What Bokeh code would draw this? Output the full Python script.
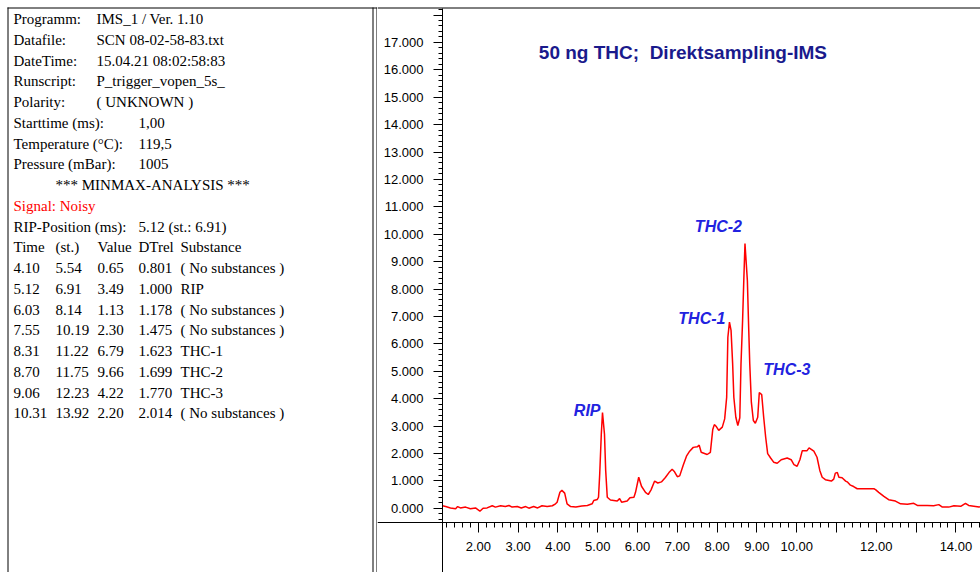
from bokeh.plotting import figure
from bokeh.models import (Range1d, LinearAxis, FixedTicker, NumeralTickFormatter,
                          Span, ColumnDataSource)
from bokeh.layouts import row
from bokeh.embed import file_html
from bokeh.resources import INLINE
from bokeh.core.properties import value

# ---------------------------------------------------------------- data
info_labels = ["Programm:", "Datafile:", "DateTime:", "Runscript:", "Polarity:",
               "Starttime (ms):", "Temperature (°C):", "Pressure (mBar):"]
info_values = ["IMS_1 / Ver. 1.10", "SCN 08-02-58-83.txt", "15.04.21 08:02:58:83",
               "P_trigger_vopen_5s_", "( UNKNOWN )", "1,00", "119,5", "1005"]
analysis_title = "*** MINMAX-ANALYSIS ***"
signal_state = "Signal: Noisy"
rip_label = "RIP-Position (ms):"
rip_position = "5.12 (st.: 6.91)"
table_header = ["Time", "(st.)", "Value", "DTrel", "Substance"]

peak_time = [4.10, 5.12, 6.03, 7.55, 8.31, 8.70, 9.06, 10.31]
peak_st = [5.54, 6.91, 8.14, 10.19, 11.22, 11.75, 12.23, 13.92]
peak_value = [0.65, 3.49, 1.13, 2.30, 6.79, 9.66, 4.22, 2.20]
peak_dtrel = [0.801, 1.000, 1.178, 1.475, 1.623, 1.699, 1.770, 2.014]
substance = ["( No substances )", "RIP", "( No substances )", "( No substances )",
             "THC-1", "THC-2", "THC-3", "( No substances )"]

# non-breaking space keeps the double gap in the SVG text
chart_title = "50 ng THC;\u00a0 Direktsampling-IMS"

# drift time (ms) and signal of the spectrum
drift_time = [
    1.10, 1.18, 1.30, 1.43, 1.48, 1.55, 1.68, 1.80, 1.93, 2.04, 2.12, 2.22, 2.35,
    2.43, 2.56, 2.68, 2.77, 2.85, 2.98, 3.08, 3.19, 3.27, 3.39, 3.49, 3.60, 3.73,
    3.86, 3.94, 3.98, 4.05, 4.10, 4.17, 4.23, 4.32, 4.45, 4.60, 4.74, 4.86, 4.90,
    4.99, 5.02, 5.05, 5.09, 5.12, 5.17, 5.20, 5.24, 5.32, 5.49, 5.55, 5.60, 5.74,
    5.81, 5.91, 5.95, 6.03, 6.10, 6.20, 6.27, 6.34, 6.43, 6.51, 6.60, 6.70, 6.79,
    6.87, 6.93, 7.00, 7.06, 7.15, 7.23, 7.31, 7.40, 7.50, 7.55, 7.60, 7.75, 7.83,
    7.89, 7.93, 7.98, 8.04, 8.13, 8.19, 8.24, 8.27, 8.31, 8.35, 8.39, 8.42, 8.47,
    8.52, 8.57, 8.60, 8.64, 8.67, 8.70, 8.76, 8.79, 8.82, 8.86, 8.91, 8.96, 9.02,
    9.06, 9.12, 9.17, 9.22, 9.27, 9.34, 9.42, 9.51, 9.61, 9.76, 9.86, 9.93, 10.01,
    10.08, 10.14, 10.26, 10.31, 10.43, 10.51, 10.58, 10.64, 10.72, 10.87, 10.93,
    10.97, 11.02, 11.06, 11.14, 11.23, 11.28, 11.35, 11.43, 11.52, 11.77, 11.94,
    11.98, 12.06, 12.19, 12.31, 12.48, 12.61, 12.78, 12.94, 13.03, 13.28, 13.44,
    13.57, 13.66, 13.82, 13.95, 14.12, 14.24, 14.32, 14.45, 14.58, 14.65,
]
intensity = [
    0.09, 0.06, 0.01, -0.02, 0.06, 0.01, 0.04, -0.02, 0.01, -0.11, 0.00, 0.01, 0.09,
    0.04, 0.09, 0.06, 0.10, 0.04, 0.06, 0.01, 0.06, 0.00, 0.06, 0.01, 0.09, 0.06,
    0.09, 0.16, 0.22, 0.58, 0.65, 0.55, 0.16, 0.06, 0.04, 0.08, 0.10, 0.16, 0.28,
    0.32, 0.40, 1.25, 2.70, 3.49, 2.70, 1.38, 0.40, 0.30, 0.26, 0.35, 0.22, 0.26,
    0.38, 0.40, 0.58, 1.13, 0.80, 0.58, 0.50, 0.67, 0.99, 0.92, 0.96, 1.12, 1.30,
    1.42, 1.33, 1.15, 1.18, 1.58, 1.90, 2.08, 2.22, 2.24, 2.30, 2.04, 1.96, 2.04,
    2.87, 3.05, 2.98, 2.84, 2.96, 3.26, 4.05, 6.24, 6.79, 6.49, 5.27, 4.05, 3.32,
    3.02, 3.30, 5.27, 6.85, 8.31, 9.66, 8.31, 6.73, 5.27, 3.87, 3.20, 3.10, 3.32,
    4.22, 4.15, 3.32, 2.59, 1.99, 1.84, 1.68, 1.64, 1.77, 1.83, 1.77, 1.59, 1.53,
    1.77, 2.10, 2.10, 2.20, 2.08, 1.86, 1.38, 1.13, 1.04, 0.99, 1.06,
    1.28, 1.30, 1.13, 1.11, 0.99, 0.95, 0.84, 0.79, 0.71, 0.71, 0.71,
    0.68, 0.58, 0.43, 0.31, 0.26, 0.16, 0.14, 0.18, 0.10, 0.10, 0.09,
    0.13, 0.04, 0.04, 0.09, 0.07, 0.18, 0.10, 0.07, 0.04, 0.07,
]

# ---------------------------------------------------------------- layout
W, H = 980, 572
LEFT_W = 377                 # width of the report panel
SERIF = value("Liberation Serif")
SANS = value("Liberation Sans")

# ---------------------------------------------------------------- report panel
info = figure(width=LEFT_W, height=H, x_range=Range1d(0, LEFT_W), y_range=Range1d(H, 0),
              x_axis_type=None, y_axis_type=None, min_border=0,
              outline_line_color=None, output_backend="svg", toolbar_location=None)
info.grid.visible = False

LINE0, LINE_H = 18.5, 20.75
COLS = [13, 55, 97, 138, 180]
xs, ys, texts, colors = [], [], [], []


def put(line, x, s, color="black"):
    xs.append(x)
    ys.append(LINE0 + line * LINE_H)
    texts.append(s)
    colors.append(color)


for i, (lab, val) in enumerate(zip(info_labels, info_values)):
    put(i, COLS[0], lab)
    put(i, COLS[2] - 1 if i < 5 else COLS[3], val)
line = len(info_labels)
put(line, COLS[1], analysis_title)
put(line + 1, COLS[0], signal_state, "#ff0000")
put(line + 2, COLS[0], rip_label)
put(line + 2, COLS[3], rip_position)
for c, h in zip(COLS, table_header):
    put(line + 3, c, h)
for k in range(len(peak_time)):
    cells = [f"{peak_time[k]:.2f}", f"{peak_st[k]:.2f}", f"{peak_value[k]:.2f}",
             f"{peak_dtrel[k]:.3f}", substance[k]]
    for c, s in zip(COLS, cells):
        put(line + 4 + k, c, s)

info.text(x="x", y="y", text="text", text_color="color",
          source=ColumnDataSource(dict(x=xs, y=ys, text=texts, color=colors)),
          text_font=SERIF, text_font_size="15px", text_baseline="alphabetic",
          text_align="left")

# panel frames
info.segment(x0=[7, 7.5, 372.5, 376.5], y0=[7.5, 7, 7, 7],
             x1=[LEFT_W, 7.5, 372.5, 376.5], y1=[7.5, H, H, H],
             line_color="black", line_width=1)

# ---------------------------------------------------------------- spectrum panel
RIGHT_W = W - LEFT_W
X0 = 1.10            # drift time where the y axis sits
AXIS_PX = 65         # y axis offset from the panel's left edge
PX_X = 39.8          # pixels per ms
ZERO_PX = 507.7      # page row of signal 0
PX_Y = 27.4          # pixels per signal unit
XAXIS_PX = 522       # page row of the x axis

x_start = X0 - AXIS_PX / PX_X
x_end = X0 + (RIGHT_W - AXIS_PX) / PX_X
y_end = ZERO_PX / PX_Y
y_start = (ZERO_PX - H) / PX_Y
x_axis_at = (ZERO_PX - XAXIS_PX) / PX_Y
top_edge = (ZERO_PX - 7.5) / PX_Y

p = figure(width=RIGHT_W, height=H, x_range=Range1d(x_start, x_end),
           y_range=Range1d(y_start, y_end), x_axis_type=None, y_axis_type=None,
           min_border=0, outline_line_color=None,
           output_backend="svg", toolbar_location=None)
p.grid.visible = False

p.line(drift_time, intensity, line_color="#ff0000", line_width=1.5)

yax = LinearAxis(
    fixed_location=X0,
    ticker=FixedTicker(ticks=list(range(0, 19)),
                       minor_ticks=[round(-0.4 + 0.2 * i, 1) for i in range(94)]),
    formatter=NumeralTickFormatter(format="0.000"),
    major_label_overrides={18.0: ""},
    bounds=(y_start, top_edge),
)
xax = LinearAxis(
    fixed_location=x_axis_at,
    ticker=FixedTicker(ticks=list(range(2, 16)),
                       minor_ticks=[round(1.2 + 0.2 * i, 1) for i in range(70)]),
    formatter=NumeralTickFormatter(format="0.00"),
    major_label_overrides={11.0: "", 13.0: "", 15.0: ""},
)
for ax in (yax, xax):
    ax.axis_line_color = "black"
    ax.major_tick_line_color = "black"
    ax.minor_tick_line_color = "black"
    ax.major_tick_in = 0
    ax.minor_tick_in = 0
    ax.major_label_text_font = "Liberation Sans"
    ax.major_label_text_font_size = "13px"
    ax.major_label_text_color = "black"
yax.major_tick_out, yax.minor_tick_out, yax.major_label_standoff = 9, 4, 10
xax.major_tick_out, xax.minor_tick_out, xax.major_label_standoff = 10, 5, 9
p.add_layout(yax, "left")
p.add_layout(xax, "below")

# panel top edge
p.add_layout(Span(location=top_edge, dimension="width", line_color="black", line_width=1))

# title
p.text(x=[3.52], y=[16.62], text=[chart_title], text_font=SANS, text_font_style="bold",
       text_font_size="19px", text_color="#1a1a8c", text_baseline="alphabetic")

# labels of identified peaks
label_style = {"RIP": (-2, -2, "right"), "THC-1": (-4, -4, "right"),
               "THC-2": (-3, -17, "right"), "THC-3": (4, -23, "left")}
for align in ("right", "left"):
    idx = [k for k, s in enumerate(substance)
           if s in label_style and label_style[s][2] == align]
    p.text(x=[peak_time[k] for k in idx], y=[peak_value[k] for k in idx],
           text=[substance[k] for k in idx],
           x_offset=[label_style[substance[k]][0] for k in idx],
           y_offset=[label_style[substance[k]][1] for k in idx],
           text_align=align, text_baseline="middle", text_font=SANS,
           text_font_style="bold italic", text_font_size="16px",
           text_color="#2222e0")

layout = row(info, p)
open("out.html", "w").write(file_html(layout, INLINE))
